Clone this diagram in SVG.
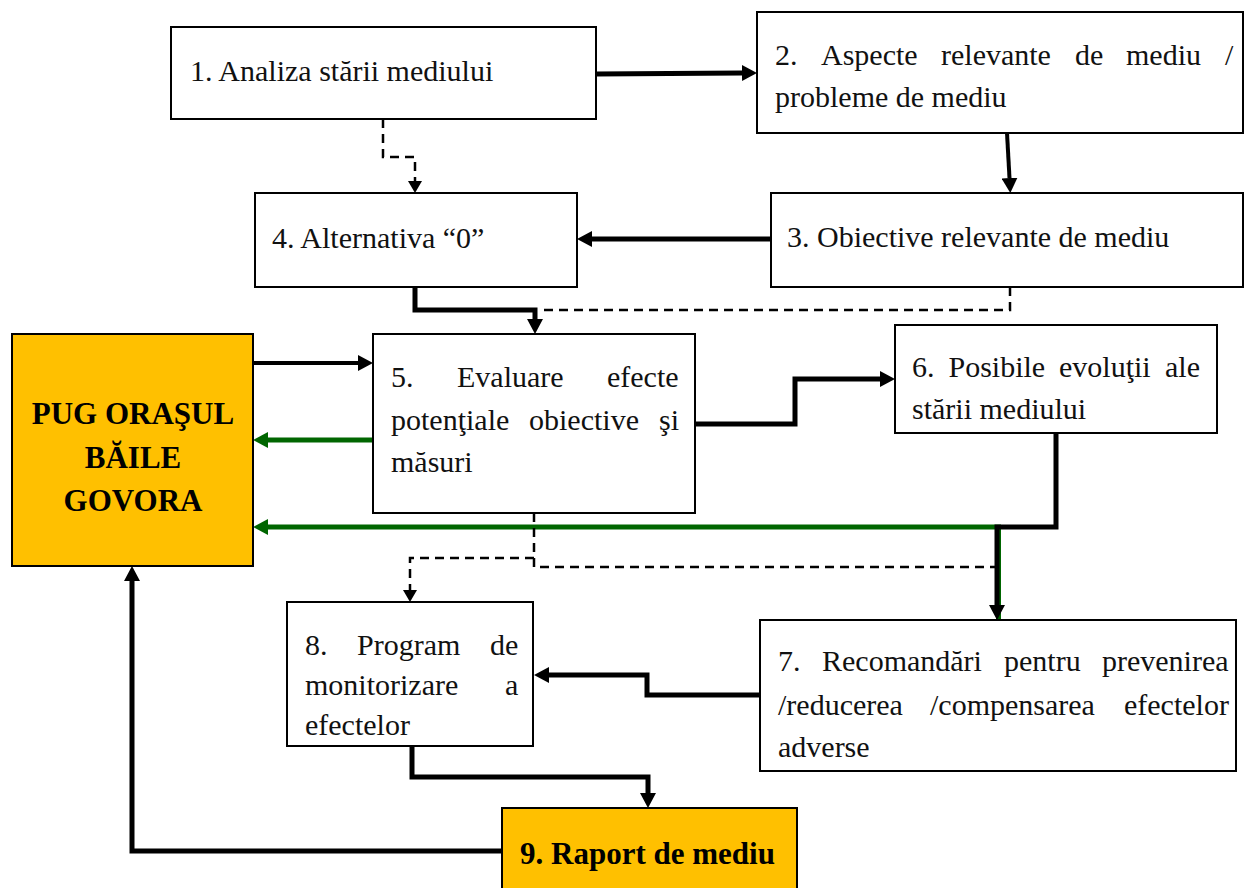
<svg xmlns="http://www.w3.org/2000/svg" width="1246" height="888" viewBox="0 0 1246 888">
<style>
.box{fill:#fff;stroke:#000;stroke-width:2}
.hl{fill:#FFC000;stroke:#000;stroke-width:2}
.t{font-family:"Liberation Serif","Times New Roman",serif;font-size:30px;fill:#111}
.b{font-family:"Liberation Serif","Times New Roman",serif;font-size:31px;font-weight:bold;fill:#000}
.k{fill:none;stroke:#000;stroke-width:5;stroke-linejoin:miter}
.m{fill:none;stroke:#000;stroke-width:4;stroke-linejoin:miter}
.g{fill:none;stroke:#006600;stroke-width:5;stroke-linejoin:miter}
.d{fill:none;stroke:#000;stroke-width:2.5;stroke-dasharray:9 6}
</style>
<defs>
<marker id="ab" markerUnits="userSpaceOnUse" markerWidth="16" markerHeight="16" refX="0" refY="8" orient="auto"><path d="M0,0 L15,8 L0,16 z" fill="#000"/></marker>
<marker id="ag" markerUnits="userSpaceOnUse" markerWidth="16" markerHeight="16" refX="0" refY="8" orient="auto"><path d="M0,0 L15,8 L0,16 z" fill="#006600"/></marker>
<marker id="as" markerUnits="userSpaceOnUse" markerWidth="13" markerHeight="14" refX="0" refY="7" orient="auto"><path d="M0,0 L12,7 L0,14 z" fill="#000"/></marker>
</defs>

<g id="connectors">
<path class="k" d="M596,74 L742,73" marker-end="url(#ab)"/>
<path class="m" d="M1007,133 L1009.5,178" marker-end="url(#ab)"/>
<path class="k" d="M771,239 H592" marker-end="url(#ab)"/>
<path class="d" d="M383,119 V157 H415 V181" marker-end="url(#as)"/>
<path class="d" d="M1010,287 V310 H540"/>
<path class="k" d="M415,287 V310 H535 V319" marker-end="url(#ab)"/>
<path class="m" d="M253,363 H358" marker-end="url(#ab)"/>
<path class="g" d="M373,440 H268" marker-end="url(#ag)"/>
<path class="k" d="M695,424 H795 V379 H880" marker-end="url(#ab)"/>
<path class="g" d="M998.5,620 V527 H268" marker-end="url(#ag)"/>
<path class="k" d="M1056,433 V527 H997 V605" marker-end="url(#ab)"/>
<path class="d" d="M534,513 V567 H995"/>
<path class="d" d="M534,558 H410 V590" marker-end="url(#as)"/>
<path class="k" d="M760,695 H647 V675 H549" marker-end="url(#ab)"/>
<path class="k" d="M412,747 V777 H648 V793" marker-end="url(#ab)"/>
<path class="k" d="M502,851 H132 V581" marker-end="url(#ab)"/>
</g>

<g id="n1">
<rect class="box" x="171" y="27" width="425" height="92"/>
<text class="t" x="190" y="81">1. Analiza stării mediului</text>
</g>

<g id="n2">
<rect class="box" x="757" y="12" width="486" height="121"/>
<text class="t" y="65"><tspan x="775">2. </tspan><tspan x="821">Aspecte </tspan><tspan x="941">relevante </tspan><tspan x="1075">de </tspan><tspan x="1126">mediu </tspan><tspan x="1225">/</tspan></text>
<text class="t" x="775" y="107">probleme de mediu</text>
</g>

<g id="n3">
<rect class="box" x="771" y="193" width="472" height="94"/>
<text class="t" x="787" y="247">3. Obiective relevante de mediu</text>
</g>

<g id="n4">
<rect class="box" x="255" y="193" width="322" height="94"/>
<text class="t" x="272" y="248">4. Alternativa “0”</text>
</g>

<g id="pug">
<rect class="hl" x="12" y="334" width="241" height="232"/>
<text class="b" text-anchor="middle" x="133" y="424">PUG ORAŞUL</text>
<text class="b" text-anchor="middle" x="133" y="468">BĂILE</text>
<text class="b" text-anchor="middle" x="133" y="511">GOVORA</text>
</g>

<g id="n5">
<rect class="box" x="373" y="334" width="322" height="179"/>
<text class="t" y="387"><tspan x="391">5. </tspan><tspan x="457">Evaluare </tspan><tspan x="607">efecte</tspan></text>
<text class="t" y="430"><tspan x="391">potenţiale </tspan><tspan x="529">obiective </tspan><tspan x="659">şi</tspan></text>
<text class="t" x="391" y="472">măsuri</text>
</g>

<g id="n6">
<rect class="box" x="895" y="325" width="322" height="108"/>
<text class="t" y="377"><tspan x="912">6. </tspan><tspan x="948.5">Posibile </tspan><tspan x="1059">evoluţii </tspan><tspan x="1165">ale</tspan></text>
<text class="t" x="912" y="419">stării mediului</text>
</g>

<g id="n7">
<rect class="box" x="760" y="620" width="476" height="151"/>
<text class="t" y="671"><tspan x="778">7. </tspan><tspan x="822">Recomandări </tspan><tspan x="1004">pentru </tspan><tspan x="1102">prevenirea</tspan></text>
<text class="t" y="715"><tspan x="778">/reducerea </tspan><tspan x="930">/compensarea </tspan><tspan x="1124">efectelor</tspan></text>
<text class="t" x="778" y="757">adverse</text>
</g>

<g id="n8">
<rect class="box" x="287" y="602" width="246" height="144"/>
<text class="t" y="655"><tspan x="305">8. </tspan><tspan x="357">Program </tspan><tspan x="490">de</tspan></text>
<text class="t" y="695"><tspan x="305">monitorizare </tspan><tspan x="505">a</tspan></text>
<text class="t" x="305" y="735">efectelor</text>
</g>

<g id="n9">
<rect class="hl" x="502" y="808" width="295" height="90"/>
<text class="b" x="520" y="864">9. Raport de mediu</text>
</g>
</svg>
